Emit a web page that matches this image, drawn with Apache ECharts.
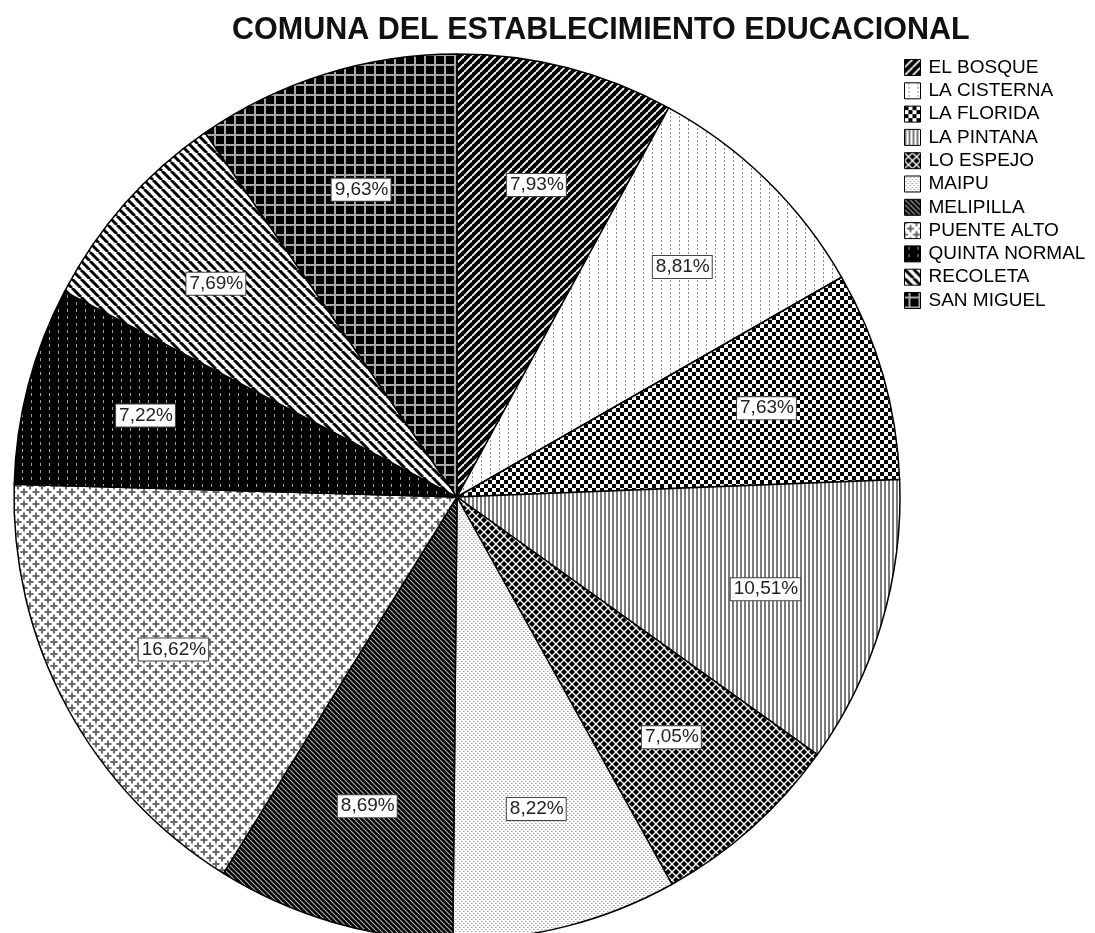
<!DOCTYPE html>
<html>
<head>
<meta charset="utf-8">
<title>Comuna del establecimiento educacional</title>
<script src="https://cdn.jsdelivr.net/npm/echarts@6/dist/echarts.min.js"></script>
<style>
  html, body { margin: 0; padding: 0; background: #fff; }
  #chart { width: 1095px; height: 933px; }
</style>
</head>
<body>
<div id="chart"></div>
<script>
  // datos
  const comunas = [
    'EL BOSQUE', 'LA CISTERNA', 'LA FLORIDA', 'LA PINTANA', 'LO ESPEJO', 'MAIPU',
    'MELIPILLA', 'PUENTE ALTO', 'QUINTA NORMAL', 'RECOLETA', 'SAN MIGUEL'
  ]
  const porcentajes = [7.93, 8.81, 7.63, 10.51, 7.05, 8.22, 8.69, 16.62, 7.22, 7.69, 9.63]

  // tramas en blanco y negro (estilo SPSS)
  function tile(w, h, bg, draw) {
    const c = document.createElement('canvas')
    c.width = w
    c.height = h
    const ctx = c.getContext('2d')
    ctx.fillStyle = bg
    ctx.fillRect(0, 0, w, h)
    draw(ctx, w, h)
    return { image: c, repeat: 'repeat' }
  }
  function diag(ctx, s, dir, color, width) {
    ctx.strokeStyle = color
    ctx.lineWidth = width
    for (let k = -1; k <= 1; k++) {
      ctx.beginPath()
      if (dir > 0) { // "/"
        ctx.moveTo(k * s, s)
        ctx.lineTo(k * s + s, 0)
      } else { // "\"
        ctx.moveTo(k * s, 0)
        ctx.lineTo(k * s + s, s)
      }
      ctx.stroke()
    }
  }
  function cruz(ctx, cx, cy, color) {
    ctx.fillStyle = color
    ctx.fillRect(cx - 3.5, cy - 1, 7, 2)
    ctx.fillRect(cx - 1, cy - 3.5, 2, 7)
  }

  const tramas = [
    tile(8, 8, '#000', (ctx) => diag(ctx, 8, 1, '#fff', 1.8)),
    tile(9, 4, '#fff', (ctx) => { ctx.fillStyle = '#8a8a8a'; ctx.fillRect(4, 0, 1, 2) }),
    tile(8, 8, '#fff', (ctx) => { ctx.fillStyle = '#000'; ctx.fillRect(0, 0, 4, 4); ctx.fillRect(4, 4, 4, 4) }),
    tile(4, 1, '#fff', (ctx) => { ctx.fillStyle = '#7a7a7a'; ctx.fillRect(0, 0, 2, 1) }),
    tile(8, 8, '#000', (ctx) => { diag(ctx, 8, 1, '#fff', 1.3); diag(ctx, 8, -1, '#fff', 1.3) }),
    tile(4, 4, '#fff', (ctx) => { ctx.fillStyle = '#a0a0a0'; ctx.fillRect(1, 1, 1, 1); ctx.fillRect(3, 3, 1, 1); ctx.fillStyle = '#c8c8c8'; ctx.fillRect(2, 1, 1, 1); ctx.fillRect(0, 3, 1, 1) }),
    tile(5, 5, '#000', (ctx) => diag(ctx, 5, -1, '#b8b8b8', 1.1)),
    tile(12, 12, '#fff', (ctx) => {
      const gris = '#6a6a6a'
      cruz(ctx, 6, 6, gris)
      cruz(ctx, 0, 0, gris); cruz(ctx, 12, 0, gris)
      cruz(ctx, 0, 12, gris); cruz(ctx, 12, 12, gris)
    }),
    tile(9, 7, '#000', (ctx) => { ctx.fillStyle = '#a0a0a0'; ctx.fillRect(4, 1, 1, 3) }),
    tile(9, 9, '#fff', (ctx) => diag(ctx, 9, -1, '#000', 3)),
    tile(10, 10, '#000', (ctx) => { ctx.fillStyle = '#a8a8a8'; ctx.fillRect(4, 0, 2, 10); ctx.fillRect(0, 4, 10, 2) })
  ]

  const fuente = '"Liberation Sans", Arial, sans-serif'
  const centro = [457, 497]
  const radio = 443

  const datosPie = comunas.map((nombre, i) => ({
    name: nombre,
    value: porcentajes[i],
    itemStyle: { color: tramas[i] }
  }))
  const datosEtiquetas = comunas.map((nombre, i) => ({ name: nombre, value: porcentajes[i] }))

  const myChart = echarts.init(document.getElementById('chart'), null, { renderer: 'canvas' })
  const option = {
    animation: false,
    backgroundColor: '#fff',
    title: {
      text: 'COMUNA DEL ESTABLECIMIENTO EDUCACIONAL',
      left: 227,
      top: 10,
      textStyle: { fontFamily: fuente, fontSize: 30.5, fontWeight: 'bold', color: '#111' }
    },
    legend: {
      orient: 'vertical',
      left: 904,
      top: 58,
      padding: 0,
      icon: 'rect',
      itemWidth: 16,
      itemHeight: 16,
      itemGap: 4.3,
      data: comunas,
      itemStyle: { borderColor: '#000', borderWidth: 1 },
      textStyle: { fontFamily: fuente, fontSize: 19, lineHeight: 19, color: '#000', padding: [0, 0, 0, 3] }
    },
    series: [
      {
        type: 'pie',
        center: centro,
        radius: [0, radio],
        startAngle: 90,
        clockwise: true,
        silent: true,
        label: { show: false },
        labelLine: { show: false },
        itemStyle: { borderColor: '#000', borderWidth: 1.5 },
        data: datosPie
      },
      {
        // serie invisible solo para ubicar las etiquetas a ~0.72 del radio
        type: 'pie',
        center: centro,
        radius: [0, radio * 1.44],
        startAngle: 90,
        clockwise: true,
        silent: true,
        itemStyle: { color: 'rgba(0,0,0,0)', borderWidth: 0 },
        labelLine: { show: false },
        label: {
          show: true,
          position: 'inside',
          formatter: (p) => p.value.toFixed(2).replace('.', ',') + '%',
          fontFamily: fuente,
          fontSize: 19,
          color: '#222',
          backgroundColor: '#fff',
          borderColor: '#444',
          borderWidth: 1,
          padding: [2, 2, 1, 3]
        },
        data: datosEtiquetas
      }
    ]
  }
  myChart.setOption(option)
</script>
</body>
</html>
